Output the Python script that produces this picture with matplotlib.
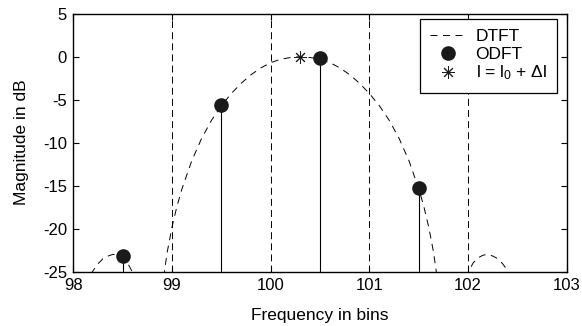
import numpy as np
import matplotlib
matplotlib.use("Agg")
import matplotlib.pyplot as plt

plt.rcParams['font.family'] = ['Liberation Sans', 'DejaVu Sans']
plt.rcParams['mathtext.fontset'] = 'custom'
plt.rcParams['mathtext.rm'] = 'Liberation Sans'
plt.rcParams['mathtext.it'] = 'Liberation Sans'
plt.rcParams['lines.scale_dashes'] = False
plt.rcParams['axes.unicode_minus'] = False

# DTFT curve (values below -25 dB are clipped)
dtft_x = [98.0, 98.1, 98.15, 98.2, 98.25, 98.3, 98.35, 98.4, 98.45, 98.5, 98.55,
          98.6, 98.65, 98.7, 98.8, 98.85, 98.9, 98.95, 99.0, 99.05, 99.1, 99.2,
          99.3, 99.4, 99.5, 99.6, 99.7, 99.8, 99.9, 100.0, 100.1, 100.2, 100.3,
          100.4, 100.5, 100.6, 100.7, 100.8, 100.9, 101.0, 101.1, 101.2, 101.3,
          101.4, 101.5, 101.55, 101.6, 101.65, 101.7, 101.75, 101.8, 101.9,
          101.95, 102.0, 102.05, 102.1, 102.15, 102.2, 102.25, 102.3, 102.35,
          102.4, 102.45, 102.5, 102.6]
dtft_y = [-30.7, -27.1, -25.9, -24.9, -24.1, -23.5, -23.2, -23.0, -23.1, -23.4, -24.0,
          -25.1, -26.8, -29.5, -40.0, -33.5, -26.9, -22.8, -19.8, -17.4, -15.4, -12.1,
          -9.5, -7.4, -5.7, -4.3, -3.1, -2.1, -1.3, -0.7, -0.3, -0.1, 0.0,
          -0.1, -0.3, -0.7, -1.3, -2.1, -3.1, -4.3, -5.7, -7.4, -9.5,
          -12.1, -15.4, -17.4, -19.8, -22.8, -26.9, -33.5, -40.0, -29.5,
          -26.8, -25.1, -24.0, -23.4, -23.1, -23.0, -23.2, -23.5, -24.1,
          -24.9, -25.9, -27.1, -30.7]

odft_x = [98.5, 99.5, 100.5, 101.5]
odft_y = [-23.2, -5.6, -0.2, -15.3]

peak_x = [100.3]
peak_y = [0.0]

bin_edges = [99, 100, 101, 102]

fig = plt.figure(figsize=(5.82, 3.26), dpi=100)
ax = fig.add_axes([0.126, 0.167, 0.848, 0.791])

for b in bin_edges:
    ax.axvline(b, color='black', lw=0.7, dashes=(5, 3))

ax.plot(dtft_x, dtft_y, color='black', lw=0.7, dashes=(5, 4), label='DTFT')
ax.vlines(odft_x, -25, odft_y, color='black', lw=0.8)
ax.plot(odft_x, odft_y, 'o', color='#1a1a1a', ms=9.5, ls='none', label='ODFT')
ax.plot(peak_x, peak_y, marker=(8, 2, 0), color='#1a1a1a', ms=9, mew=0.7,
        ls='none', label=r'l = l$_0$ + $\Delta$l')

ax.set_xlim(98, 103)
ax.set_ylim(-25, 5)
ax.set_xticks([98, 99, 100, 101, 102, 103])
ax.set_yticks([5, 0, -5, -10, -15, -20, -25])
ax.tick_params(direction='in', top=True, right=True, labelsize=12, length=4,
               width=0.8, pad=4.5)
for s in ax.spines.values():
    s.set_linewidth(1.0)

ax.set_xlabel('Frequency in bins', fontsize=12.5, labelpad=11)
ax.set_ylabel('Magnitude in dB', fontsize=12.5, labelpad=10)

leg = ax.legend(loc='upper right', bbox_to_anchor=(0.98, 0.98), borderaxespad=0,
                fontsize=12.5, fancybox=False, edgecolor='black', framealpha=1,
                labelspacing=0.12, handlelength=2.0, handletextpad=0.6,
                borderpad=0.6)
leg.get_frame().set_linewidth(0.9)

fig.savefig('out.png', dpi=100)
